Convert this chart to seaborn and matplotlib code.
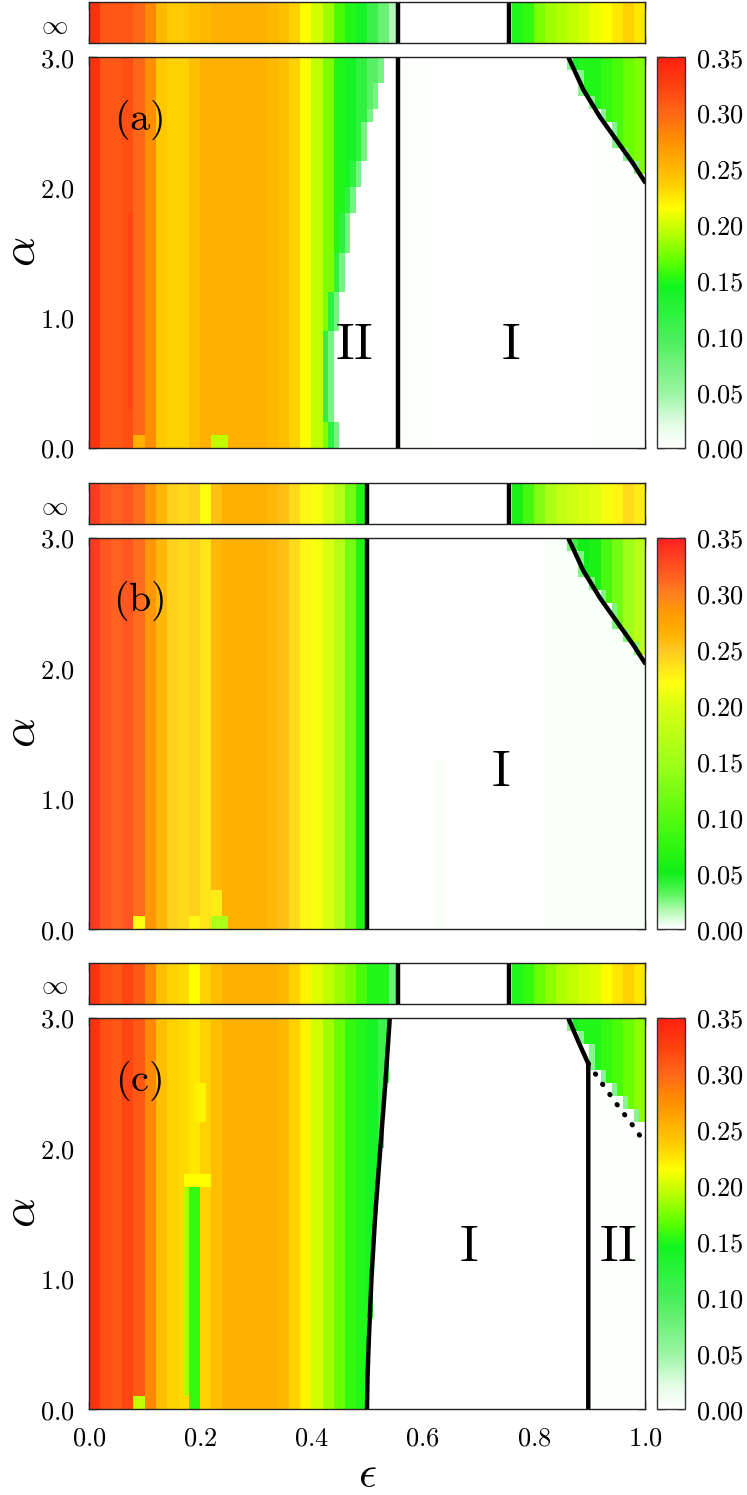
import numpy as np
import pandas as pd
import matplotlib
matplotlib.use("Agg")
import matplotlib.pyplot as plt
from matplotlib.colors import LinearSegmentedColormap
import seaborn as sns

sns.set_theme(style="ticks")
plt.rcParams["mathtext.fontset"] = "cm"
plt.rcParams["font.family"] = ["DejaVu Serif"]
plt.rcParams["text.color"] = "black"
plt.rcParams["xtick.color"] = "black"
plt.rcParams["ytick.color"] = "black"
plt.rcParams["axes.labelcolor"] = "black"

# cell centres of the (epsilon, alpha) grid
eps_centres = np.arange(100) * 0.01 + 0.005
alpha_centres = np.arange(30) * 0.1 + 0.05

# ---------------- data ----------------
# column profiles (0.02 wide columns, eps = 0.01 ... 0.99), main panels
profile_a = [0.335, 0.31, 0.31, 0.315, 0.30, 0.275, 0.24, 0.235, 0.235, 0.245,
             0.255, 0.255, 0.255, 0.255, 0.255, 0.255, 0.25, 0.245, 0.235, 0.215,
             0.195, 0.175, 0.15, 0.14, 0.12, 0.09, 0.07, 0, 0, 0,
             0, 0, 0, 0, 0, 0, 0, 0, 0, 0,
             0, 0, 0, 0, 0, 0, 0, 0, 0, 0]
profile_b = [0.335, 0.32, 0.315, 0.32, 0.31, 0.285, 0.26, 0.245, 0.24, 0.245,
             0.235, 0.26, 0.265, 0.265, 0.265, 0.265, 0.26, 0.255, 0.24, 0.225,
             0.215, 0.20, 0.17, 0.12, 0.065, 0, 0, 0, 0, 0,
             0, 0, 0, 0, 0, 0, 0, 0, 0, 0,
             0, 0, 0, 0, 0, 0, 0, 0, 0, 0]
profile_c = [0.335, 0.315, 0.31, 0.32, 0.31, 0.28, 0.245, 0.235, 0.23, 0.225,
             0.235, 0.245, 0.255, 0.255, 0.255, 0.255, 0.255, 0.25, 0.235, 0.22,
             0.20, 0.185, 0.17, 0.155, 0.15, 0.14, 0.11, 0.07, 0, 0,
             0, 0, 0, 0, 0, 0, 0, 0, 0, 0,
             0, 0, 0, 0, 0, 0, 0, 0, 0, 0]

# alpha = infinity strips
strip_a = [0.335, 0.31, 0.31, 0.31, 0.30, 0.28, 0.25, 0.24, 0.24, 0.245,
           0.25, 0.255, 0.255, 0.255, 0.255, 0.255, 0.25, 0.245, 0.235, 0.215,
           0.20, 0.185, 0.16, 0.15, 0.14, 0.11, 0.08, 0.04, 0, 0,
           0, 0, 0, 0, 0, 0, 0, 0, 0.15, 0.155,
           0.175, 0.185, 0.19, 0.195, 0.20, 0.21, 0.215, 0.225, 0.235, 0.225]
strip_b = [0.335, 0.32, 0.315, 0.32, 0.31, 0.285, 0.26, 0.245, 0.24, 0.245,
           0.22, 0.255, 0.265, 0.265, 0.265, 0.265, 0.26, 0.255, 0.24, 0.225,
           0.215, 0.20, 0.17, 0.12, 0.065, 0, 0, 0, 0, 0,
           0, 0, 0, 0, 0, 0, 0, 0, 0.06, 0.09,
           0.13, 0.16, 0.18, 0.19, 0.20, 0.205, 0.215, 0.225, 0.24, 0.23]
strip_c = [0.335, 0.315, 0.31, 0.32, 0.31, 0.28, 0.245, 0.235, 0.23, 0.215,
           0.235, 0.245, 0.255, 0.255, 0.255, 0.255, 0.255, 0.25, 0.235, 0.22,
           0.205, 0.195, 0.185, 0.175, 0.16, 0.15, 0.15, 0.08, 0, 0,
           0, 0, 0, 0, 0, 0, 0, 0, 0.15, 0.155,
           0.17, 0.18, 0.19, 0.195, 0.20, 0.205, 0.215, 0.225, 0.235, 0.225]

# epsilon where the ordered (white) region starts, per alpha row (0.05 ... 2.95)
boundary_a = [0.45, 0.45, 0.44, 0.44, 0.44, 0.44, 0.44, 0.44, 0.44, 0.45,
              0.45, 0.45, 0.46, 0.46, 0.46, 0.47, 0.47, 0.47, 0.48, 0.48,
              0.49, 0.49, 0.50, 0.50, 0.50, 0.51, 0.52, 0.52, 0.53, 0.53]
boundary_b = 0.50
boundary_c = [0.500, 0.500, 0.501, 0.502, 0.503, 0.504, 0.505, 0.506, 0.507, 0.508,
              0.509, 0.510, 0.512, 0.513, 0.515, 0.517, 0.519, 0.521, 0.523, 0.525,
              0.527, 0.529, 0.531, 0.533, 0.534, 0.536, 0.537, 0.538, 0.540, 0.541]
edge_a = [0.07, 0.12]

# upper right corner: alpha where colour starts and its value (eps 0.87 ... 0.99)
corner_start_ab = [2.92, 2.74, 2.58, 2.46, 2.34, 2.22, 2.10]
corner_start_c = [2.92, 2.78, 2.62, 2.52, 2.42, 2.32, 2.22]
corner_a = [0.14, 0.15, 0.15, 0.155, 0.16, 0.17, 0.175]
corner_b = [0.04, 0.05, 0.06, 0.09, 0.12, 0.15, 0.17]
corner_c = [0.14, 0.15, 0.15, 0.155, 0.16, 0.17, 0.18]

# faint tint of the white region: (alpha_lo, alpha_hi, eps_lo, eps_hi, value)
tint_a = [(0.0, 3.0, 0.56, 0.62, 0.0015), (0.0, 3.0, 0.90, 1.0, 0.002)]
tint_b = [(0.0, 1.3, 0.62, 0.64, 0.002), (0.0, 3.0, 0.82, 1.0, 0.002)]
tint_c = [(0.0, 3.0, 0.76, 0.90, 0.0012), (0.0, 3.0, 0.90, 1.0, 0.002)]

# single odd cells / stripes: (alpha_lo, alpha_hi, eps_lo, eps_hi, value)
patch_a = [(0.0, 0.1, 0.08, 0.10, 0.255), (0.0, 0.1, 0.22, 0.25, 0.195),
           (0.3, 1.8, 0.07, 0.08, 0.322)]
patch_b = [(0.0, 0.1, 0.08, 0.10, 0.22), (0.0, 0.1, 0.18, 0.20, 0.225),
           (0.0, 0.1, 0.22, 0.25, 0.16), (0.1, 0.3, 0.22, 0.24, 0.23),
           (2.5, 2.7, 0.20, 0.22, 0.235)]
patch_c = [(0.0, 0.1, 0.08, 0.10, 0.195), (0.1, 1.7, 0.17, 0.18, 0.19),
           (0.0, 1.7, 0.18, 0.20, 0.155), (1.7, 1.8, 0.17, 0.22, 0.215),
           (2.2, 2.5, 0.19, 0.21, 0.22)]

# phase boundaries (epsilon, alpha)
curve_eps = [0.862, 0.889, 0.919, 0.949, 0.979, 1.0]
curve_alpha = [3.0, 2.75, 2.54, 2.36, 2.18, 2.04]
vline_a = 0.555
vline_b = 0.50
left_c_eps = [0.500, 0.501, 0.503, 0.508, 0.515, 0.524, 0.533, 0.541]
left_c_alpha = [0.0, 0.25, 0.5, 1.0, 1.5, 2.0, 2.5, 3.0]
kink_c_eps = [0.862, 0.880, 0.898, 0.898]
kink_c_alpha = [3.0, 2.82, 2.65, 0.0]
dot_c_eps = [0.898, 0.919, 0.949, 0.979, 1.0]
dot_c_alpha = [2.65, 2.52, 2.34, 2.17, 2.04]
strip_lines_a = [0.555, 0.755]
strip_lines_b = [0.50, 0.755]
strip_lines_c = [0.555, 0.755]

eps_ticks = [0.0, 0.1, 0.2, 0.3, 0.4, 0.5, 0.6, 0.7, 0.8, 0.9, 1.0]
alpha_ticks = [0.0, 1.0, 2.0, 3.0]
cbar_ticks = [0.0, 0.05, 0.10, 0.15, 0.20, 0.25, 0.30, 0.35]

# ---------------- colour maps ----------------
VMAX = 0.35
cmap_ac = LinearSegmentedColormap.from_list("ac", [
    (0.0, "#ffffff"), (0.02 / VMAX, "#e4fde6"), (0.05 / VMAX, "#98f5a0"),
    (0.10 / VMAX, "#48ee58"), (0.145 / VMAX, "#10f520"), (0.165 / VMAX, "#58ff00"),
    (0.19 / VMAX, "#b0ff00"), (0.205 / VMAX, "#e0ff00"), (0.215 / VMAX, "#ffff00"),
    (0.235 / VMAX, "#ffd000"), (0.255 / VMAX, "#ffb000"), (0.275 / VMAX, "#ff9000"),
    (0.30 / VMAX, "#ff6818"), (0.325 / VMAX, "#ff4010"), (1.0, "#ff2010")])
cmap_b = LinearSegmentedColormap.from_list("b", [
    (0.0, "#ffffff"), (0.015 / VMAX, "#b8fbb8"), (0.03 / VMAX, "#60f560"),
    (0.05 / VMAX, "#10ee18"), (0.08 / VMAX, "#38f810"), (0.10 / VMAX, "#58fa10"),
    (0.15 / VMAX, "#a0ff18"), (0.20 / VMAX, "#d8ff10"), (0.22 / VMAX, "#ffff10"),
    (0.25 / VMAX, "#ffc820"), (0.265 / VMAX, "#ffb000"), (0.28 / VMAX, "#ffa000"),
    (0.30 / VMAX, "#ff8020"), (0.325 / VMAX, "#ff5020"), (1.0, "#ff2020")])


def rows_cols(a0, a1, e0, e1):
    return np.ix_((alpha_centres > a0) & (alpha_centres < a1),
                  (eps_centres > e0) & (eps_centres < e1))


def build_grid(profile, boundary, edge, corner_start, corner_vals, corner_edge,
               tints, patches):
    prof = np.repeat(profile, 2)
    bnd = np.broadcast_to(np.asarray(boundary, float), alpha_centres.shape)
    grid = np.zeros((alpha_centres.size, eps_centres.size))
    for r in range(alpha_centres.size):
        left = np.where(eps_centres < bnd[r])[0]
        grid[r, left] = prof[left]
        for k, e in enumerate(edge):
            grid[r, left[-1 - k]] = min(grid[r, left[-1 - k]], e)
    for a0, a1, e0, e1, v in tints:
        sel = rows_cols(a0, a1, e0, e1)
        grid[sel] = np.where(grid[sel] == 0, v, grid[sel])
    cols = np.where(eps_centres > 0.86)[0]
    cs = np.repeat(corner_start, 2)
    cv = np.repeat(corner_vals, 2)
    for r, a in enumerate(alpha_centres):
        hit = np.where(a > cs)[0]
        if hit.size:
            grid[r, cols[hit]] = cv[hit]
            grid[r, cols[hit[0]]] = min(cv[hit[0]], corner_edge)
    for a0, a1, e0, e1, v in patches:
        grid[rows_cols(a0, a1, e0, e1)] = v
    return grid


grid_a = build_grid(profile_a, boundary_a, edge_a, corner_start_ab, corner_a, 0.06, tint_a, patch_a)
grid_b = build_grid(profile_b, boundary_b, [], corner_start_ab, corner_b, 0.025, tint_b, patch_b)
grid_c = build_grid(profile_c, boundary_c, [], corner_start_c, corner_c, 0.06, tint_c, patch_c)


def to_x(eps):
    return np.asarray(eps) / 0.01


def to_y(alpha):
    return np.asarray(alpha) / 0.1


# ---------------- figure ----------------
W_PX, H_PX = 747, 1495
fig = plt.figure(figsize=(W_PX / 100, H_PX / 100), dpi=100)
LEFT, WIDTH = 89 / W_PX, 556 / W_PX
CB_LEFT, CB_W = 657 / W_PX, 28 / W_PX

panels = [
    dict(tag="(a)", grid=grid_a, strip=strip_a, cmap=cmap_ac, lines=strip_lines_a,
         main_top=57, strip_top=2, labels=[("II", 0.477, 0.79), ("I", 0.759, 0.79)]),
    dict(tag="(b)", grid=grid_b, strip=strip_b, cmap=cmap_b, lines=strip_lines_b,
         main_top=538, strip_top=483, labels=[("I", 0.741, 1.2)]),
    dict(tag="(c)", grid=grid_c, strip=strip_c, cmap=cmap_ac, lines=strip_lines_c,
         main_top=1018, strip_top=963, labels=[("I", 0.683, 1.24), ("II", 0.951, 1.24)]),
]

LW = 3.2
for i, p in enumerate(panels):
    main_bottom = 1 - (p["main_top"] + 391) / H_PX
    ax = fig.add_axes([LEFT, main_bottom, WIDTH, 391 / H_PX])
    cax = fig.add_axes([CB_LEFT, main_bottom, CB_W, 391 / H_PX])
    sax = fig.add_axes([LEFT, 1 - (p["strip_top"] + 41) / H_PX, WIDTH, 41 / H_PX])

    df = pd.DataFrame(p["grid"], index=np.round(alpha_centres, 2),
                      columns=np.round(eps_centres, 3))
    sns.heatmap(df, ax=ax, cmap=p["cmap"], vmin=0, vmax=VMAX, cbar=True, cbar_ax=cax,
                xticklabels=False, yticklabels=False)
    ax.set_xlim(0, 100)
    ax.set_ylim(0, 30)
    ax.set_xlabel("")
    ax.set_ylabel("")

    sdf = pd.DataFrame(np.repeat(p["strip"], 2)[None, :], index=["inf"],
                       columns=np.round(eps_centres, 3))
    sns.heatmap(sdf, ax=sax, cmap=p["cmap"], vmin=0, vmax=VMAX, cbar=False,
                xticklabels=False, yticklabels=False)
    sax.set_xlim(0, 100)
    sax.set_ylim(0, 1)
    sax.set_xlabel("")
    sax.set_ylabel("")

    for a in (ax, sax):
        for sp in a.spines.values():
            sp.set_visible(True)
            sp.set_linewidth(1.0)
            sp.set_color("#222222")

    # ticks
    ax.set_xticks(to_x(eps_ticks))
    if i == 2:
        ax.set_xticklabels(["$%.1f$" % t if k % 2 == 0 else "" for k, t in enumerate(eps_ticks)])
    else:
        ax.set_xticklabels([""] * len(eps_ticks))
    ax.set_yticks(to_y(alpha_ticks))
    ax.set_yticklabels(["$%.1f$" % t for t in alpha_ticks])
    ax.tick_params(axis="both", direction="in", top=True, right=True, bottom=True,
                   left=True, length=6, width=1, color="#222222", labelsize=19,
                   labelcolor="black")
    ax.tick_params(axis="y", pad=10)
    ax.tick_params(axis="x", pad=12)

    sax.set_xticks(to_x(eps_ticks))
    sax.set_xticklabels([""] * len(eps_ticks))
    sax.set_yticks([0.5])
    sax.set_yticklabels([r"$\infty$"])
    sax.tick_params(axis="x", direction="in", top=True, bottom=True, length=6,
                    width=1, color="#222222")
    sax.tick_params(axis="y", length=0, labelsize=19, pad=15, labelcolor="black")

    # colour bar
    cbar = ax.collections[0].colorbar
    cbar.outline.set_linewidth(1.0)
    cbar.outline.set_edgecolor("#333333")
    cbar.set_ticks(cbar_ticks)
    cbar.set_ticklabels(["$%.2f$" % t for t in cbar_ticks])
    cbar.ax.tick_params(axis="y", direction="in", left=True, right=True, length=6,
                        width=1, color="#222222", labelsize=19, pad=8,
                        labelcolor="black")

    # phase boundaries
    for x in p["lines"]:
        sax.axvline(to_x(x), color="black", lw=LW)
    if i == 0:
        ax.axvline(to_x(vline_a), color="black", lw=LW)
    if i == 1:
        ax.axvline(to_x(vline_b), color="black", lw=LW)
    if i in (0, 1):
        ax.plot(to_x(curve_eps), to_y(curve_alpha), color="black", lw=LW)
    if i == 2:
        ax.plot(to_x(left_c_eps), to_y(left_c_alpha), color="black", lw=LW)
        ax.plot(to_x(kink_c_eps), to_y(kink_c_alpha), color="black", lw=LW)
        ax.plot(to_x(dot_c_eps), to_y(dot_c_alpha), color="black", lw=3.6,
                linestyle=(0, (0.1, 2.4)), dash_capstyle="round")

    ax.text(to_x(0.09), to_y(2.52), r"$\mathrm{%s}$" % p["tag"], fontsize=29,
            ha="center", va="center", color="black")
    for txt, e, a in p["labels"]:
        ax.text(to_x(e), to_y(a), r"$\mathrm{%s}$" % txt, fontsize=37,
                ha="center", va="center", color="black")

    fig.text(22 / W_PX, 1 - (p["main_top"] + 195) / H_PX, r"$\alpha$", fontsize=34,
             rotation=90, ha="center", va="center", color="black")

fig.text(367 / W_PX, 1 - 1474 / H_PX, r"$\epsilon$", fontsize=32, ha="center",
         va="center", color="black")

fig.savefig("out.png", dpi=100)
